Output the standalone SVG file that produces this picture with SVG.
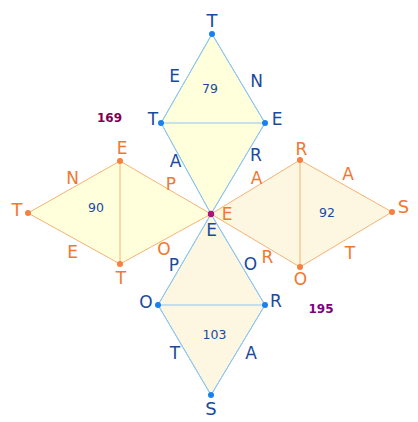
<svg xmlns="http://www.w3.org/2000/svg" width="418" height="422" viewBox="0 0 418 422">
<style>
.bl{stroke:#8cc6f2;stroke-width:1;}
.or{stroke:#f8b274;stroke-width:1;}
.fy{fill:#ffffdc;}
.fb{fill:#fdf6e0;}
text{font-family:"DejaVu Sans",Verdana,sans-serif;text-anchor:middle;}
.tb{fill:#1a4a9c;font-size:17px;}
.to{fill:#f07830;font-size:17px;}
.num{fill:#1a4a9c;font-size:12.5px;}
.db{fill:#1a80f0;}
.do{fill:#f58040;}
.big{font-size:12px;font-weight:bold;}
</style>
<rect width="418" height="422" fill="#ffffff"/>
<g id="connectors">
<polygon class="bl fy" points="212,34 265,123 211,214 161,123"/>
<polygon class="or fy" points="28,213 120,161 211,214 120,264"/>
<polygon class="or fb" points="211,214 300,160 392,212 300,267"/>
<polygon class="bl fb" points="211,214 265,305 211,395 158,305"/>
<line class="bl" x1="161" y1="123" x2="265" y2="123"/>
<line class="or" x1="120" y1="161" x2="120" y2="264"/>
<line class="or" x1="300" y1="160" x2="300" y2="267"/>
<line class="bl" x1="158" y1="305" x2="265" y2="305"/>
<polygon class="bl" fill="none" points="212,34 265,123 211,214 161,123"/>
<polygon class="bl" fill="none" points="211,214 265,305 211,395 158,305"/>
</g>
<g id="top">
<circle class="db" cx="212" cy="34" r="3"/>
<circle class="db" cx="161" cy="123" r="3"/>
<circle class="db" cx="265" cy="123" r="3"/>
<text class="tb" x="212" y="27" style="font-size:18px">T</text>
<text class="tb" x="153" y="125">T</text>
<text class="tb" x="277" y="125">E</text>
<text class="tb" x="174.5" y="82">E</text>
<text class="tb" x="256.5" y="87">N</text>
<text class="tb" x="175.5" y="167">A</text>
<text class="tb" x="256" y="161">R</text>
<text class="num" x="210" y="93">79</text>
</g>
<g id="left">
<circle class="do" cx="120" cy="161" r="3"/>
<circle class="do" cx="28" cy="213" r="3"/>
<circle class="do" cx="120" cy="264" r="3"/>
<text class="to" x="17" y="216" style="font-size:18px">T</text>
<text class="to" x="122" y="154">E</text>
<text class="to" x="121" y="284">T</text>
<text class="to" x="72.5" y="184">N</text>
<text class="to" x="171" y="190">P</text>
<text class="to" x="72.5" y="258">E</text>
<text class="to" x="164" y="255">O</text>
<text class="num" x="96" y="212">90</text>
</g>
<g id="right">
<circle class="do" cx="300" cy="160" r="3"/>
<circle class="do" cx="392" cy="212" r="3"/>
<circle class="do" cx="300" cy="267" r="3"/>
<text class="to" x="301.5" y="155">R</text>
<text class="to" x="403.5" y="213" style="font-size:18px">S</text>
<text class="to" x="300.5" y="285">O</text>
<text class="to" x="227" y="220">E</text>
<text class="to" x="256.5" y="184">A</text>
<text class="to" x="348" y="180">A</text>
<text class="to" x="267.5" y="263">R</text>
<text class="to" x="350" y="259">T</text>
<text class="num" x="327" y="217">92</text>
</g>
<g id="bottom">
<circle class="db" cx="158" cy="305" r="3"/>
<circle class="db" cx="265" cy="305" r="3"/>
<circle class="db" cx="211" cy="395" r="3"/>
<text class="tb" x="146" y="308">O</text>
<text class="tb" x="276" y="307">R</text>
<text class="tb" x="211" y="415" style="font-size:18px">S</text>
<text class="tb" x="211.5" y="236">E</text>
<text class="tb" x="174" y="271">P</text>
<text class="tb" x="250.5" y="270">O</text>
<text class="tb" x="175" y="359">T</text>
<text class="tb" x="251" y="359">A</text>
<text class="num" x="214.5" y="339">103</text>
</g>
<g id="center">
<circle cx="211" cy="214" r="3.2" fill="#b0107a"/>
</g>
<g id="labels">
<text class="big" x="109.5" y="122" fill="#800050">169</text>
<text class="big" x="321" y="313" fill="#800080">195</text>
</g>
</svg>
